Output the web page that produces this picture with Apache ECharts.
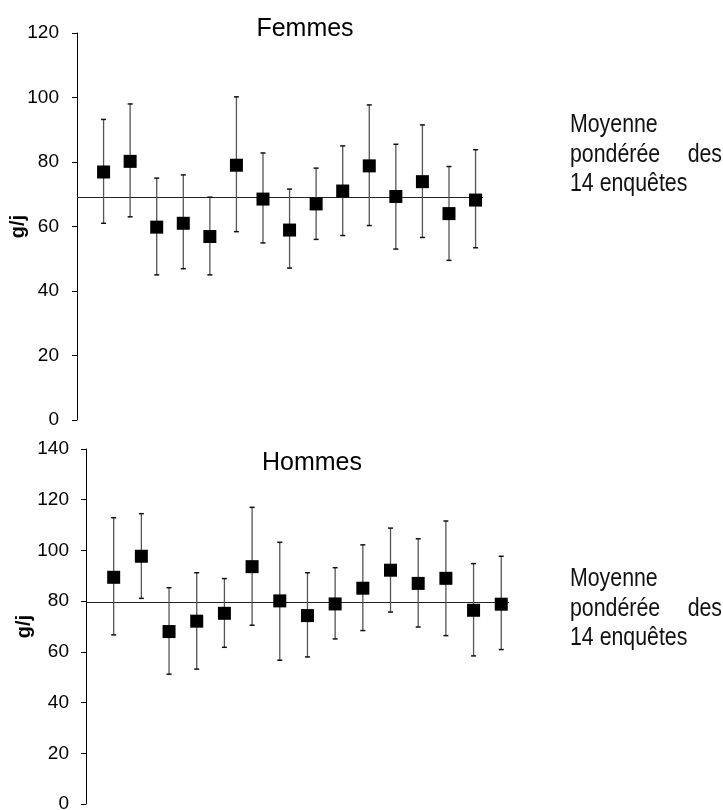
<!DOCTYPE html>
<html lang="fr">
<head>
<meta charset="utf-8">
<title>Apports par enquête — Femmes / Hommes</title>
<script src="https://cdn.jsdelivr.net/npm/echarts@6/dist/echarts.min.js"></script>
<style>
  html, body { margin: 0; padding: 0; background: #fff; }
  #chart { width: 723px; height: 810px; }
</style>
</head>
<body>
<div id="chart"></div>
<script>
// Enquêtes numérotées 1..15 le long de l'axe horizontal (non affiché)
const surveys = [1, 2, 3, 4, 5, 6, 7, 8, 9, 10, 11, 12, 13, 14, 15];

// Femmes : moyenne et bornes de l'intervalle (g/j)
const femmesMean  = [76.9, 80.2, 59.8, 61.0, 56.9, 79.0, 68.5, 58.9, 67.0, 71.0, 78.8, 69.3, 73.9, 64.0, 68.2];
const femmesUpper = [93.2, 98.0, 75.0, 76.0, 69.1, 100.2, 82.8, 71.6, 78.1, 85.0, 97.7, 85.5, 91.5, 78.6, 83.8];
const femmesLower = [61.0, 63.0, 45.0, 46.9, 45.0, 58.4, 54.9, 47.1, 56.0, 57.2, 60.3, 53.0, 56.6, 49.5, 53.4];
const femmesPooled = 69.1;

// Hommes : moyenne et bornes de l'intervalle (g/j)
const hommesMean  = [89.4, 97.7, 68.0, 72.1, 75.2, 93.6, 80.1, 74.3, 78.9, 85.1, 92.2, 87.0, 89.0, 76.4, 78.8];
const hommesUpper = [112.9, 114.5, 85.3, 91.2, 88.9, 117.0, 103.2, 91.2, 93.2, 102.2, 108.8, 104.6, 111.6, 94.8, 97.7];
const hommesLower = [66.7, 81.1, 51.2, 53.2, 61.8, 70.5, 56.7, 58.0, 65.1, 68.4, 75.7, 69.8, 66.4, 58.4, 60.9];
const hommesPooled = 79.4;

// Graduations de l'axe vertical
const femmesTicks = { min: 0, max: 120, interval: 20 };
const hommesTicks = { min: 0, max: 140, interval: 20 };

const panelTitles = ['Femmes', 'Hommes'];
const noteLines = ['Moyenne', 'pondérée', 'des', '14 enquêtes'];
const unitLabel = 'g/j';

const FONT = "'Liberation Sans', Arial, sans-serif";

function errorBarSeries(xAxisIndex, lower, upper) {
  return {
    type: 'custom',
    xAxisIndex: xAxisIndex,
    yAxisIndex: xAxisIndex,
    silent: true,
    z: 2,
    data: surveys.map((s, i) => [s, lower[i], upper[i]]),
    renderItem: function (params, api) {
      const lo = api.coord([api.value(0), api.value(1)]);
      const hi = api.coord([api.value(0), api.value(2)]);
      const cap = 2.5;
      return {
        type: 'group',
        children: [
          { type: 'line', shape: { x1: lo[0], y1: lo[1], x2: hi[0], y2: hi[1] },
            style: { stroke: '#555', lineWidth: 1.3 } },
          { type: 'line', shape: { x1: hi[0] - cap, y1: hi[1], x2: hi[0] + cap, y2: hi[1] },
            style: { stroke: '#111', lineWidth: 1.5 } },
          { type: 'line', shape: { x1: lo[0] - cap, y1: lo[1], x2: lo[0] + cap, y2: lo[1] },
            style: { stroke: '#111', lineWidth: 1.5 } }
        ]
      };
    }
  };
}

function meanSeries(xAxisIndex, mean, pooled) {
  return {
    type: 'scatter',
    xAxisIndex: xAxisIndex,
    yAxisIndex: xAxisIndex,
    symbol: 'rect',
    symbolSize: 13,
    itemStyle: { color: '#000', opacity: 1 },
    silent: true,
    z: 3,
    data: surveys.map((s, i) => [s, mean[i]]),
    markLine: {
      silent: true,
      symbol: 'none',
      label: { show: false },
      lineStyle: { color: '#222', width: 1, type: 'solid' },
      data: [{ yAxis: pooled }],
      z: 1
    }
  };
}

function valueAxis(gridIndex, ticks, labelMargin, nameGap) {
  return {
    type: 'value',
    gridIndex: gridIndex,
    min: ticks.min,
    max: ticks.max,
    interval: ticks.interval,
    name: unitLabel,
    nameLocation: 'middle',
    nameRotate: 90,
    nameGap: nameGap,
    nameMoveOverlap: false,
    nameTextStyle: { fontFamily: FONT, fontSize: 20, fontWeight: 'bold', color: '#000' },
    axisLine: { show: true, lineStyle: { color: '#000', width: 1 } },
    axisTick: { show: true, length: 5, lineStyle: { color: '#000', width: 1 } },
    axisLabel: { fontFamily: FONT, fontSize: 19, color: '#000', margin: labelMargin },
    splitLine: { show: false }
  };
}

function surveyAxis(gridIndex) {
  return {
    type: 'value',
    gridIndex: gridIndex,
    min: 0,
    max: 15.28,
    show: false
  };
}

// Bloc de texte justifié à droite du graphique (police étroite simulée par scaleX)
function noteBlock(y0) {
  const style = (text, align) => ({
    text: text, align: align, verticalAlign: 'middle',
    fontFamily: FONT, fontSize: 26, fill: '#111'
  });
  return [
    { type: 'text', x: 570, y: y0, scaleX: 0.82, style: style(noteLines[0], 'left') },
    { type: 'text', x: 570, y: y0 + 29.5, scaleX: 0.82, style: style(noteLines[1], 'left') },
    { type: 'text', x: 722, y: y0 + 29.5, scaleX: 0.82, style: style(noteLines[2], 'right') },
    { type: 'text', x: 570, y: y0 + 59, scaleX: 0.82, style: style(noteLines[3], 'left') }
  ];
}

const chart = echarts.init(document.getElementById('chart'), null, { renderer: 'canvas' });

chart.setOption({
  backgroundColor: '#fff',
  animation: false,
  title: [
    { text: panelTitles[0], left: 300, top: 12, textAlign: 'center',
      textStyle: { fontFamily: FONT, fontSize: 25, fontWeight: 'normal', color: '#000' } },
    { text: panelTitles[1], left: 307, top: 446, textAlign: 'center',
      textStyle: { fontFamily: FONT, fontSize: 25, fontWeight: 'normal', color: '#000' } }
  ],
  grid: [
    { left: 77, top: 33, width: 406, height: 387, outerBoundsMode: 'none', containLabel: false },
    { left: 86, top: 449, width: 423, height: 355, outerBoundsMode: 'none', containLabel: false }
  ],
  xAxis: [surveyAxis(0), surveyAxis(1)],
  yAxis: [valueAxis(0, femmesTicks, 18, 49), valueAxis(1, hommesTicks, 17, 52)],
  series: [
    errorBarSeries(0, femmesLower, femmesUpper),
    meanSeries(0, femmesMean, femmesPooled),
    errorBarSeries(1, hommesLower, hommesUpper),
    meanSeries(1, hommesMean, hommesPooled)
  ],
  graphic: noteBlock(125).concat(noteBlock(579))
});
</script>
</body>
</html>
